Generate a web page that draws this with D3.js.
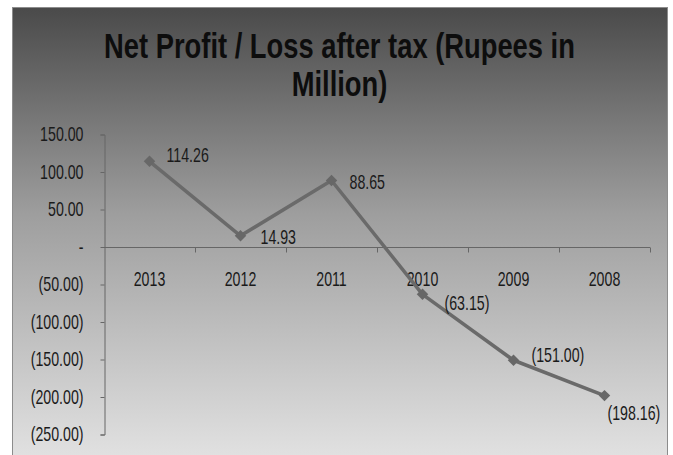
<!DOCTYPE html>
<html>
<head>
<meta charset="utf-8">
<script src="https://cdn.jsdelivr.net/npm/d3@7/dist/d3.min.js"></script>
<style>
  html, body { margin: 0; padding: 0; background: #fff; }
  svg { display: block; }
  text { font-family: "Liberation Sans", Arial, sans-serif; }
</style>
</head>
<body>
<svg id="chart" width="673" height="455"></svg>
<script>
// Net profit / loss after tax, Rupees in million
const years = ["2013", "2012", "2011", "2010", "2009", "2008"];
const netProfit = [114.26, 14.93, 88.65, -63.15, -151.00, -198.16];
const yTicks = [150, 100, 50, 0, -50, -100, -150, -200, -250];
const titleLines = ["Net Profit / Loss after tax (Rupees in", "Million)"];

// label nudges relative to each point [dx, dy]
const labelNudge = [[17, 1], [20, 8], [18, 8.5], [22, 16], [18, 2], [3, 24]];

// horizontal squeeze giving the narrow typeface look
const NARROW = 0.71;
const FS = 20;

const svg = d3.select("#chart");

// background panel with vertical grey gradient
const defs = svg.append("defs");
const grad = defs.append("linearGradient")
  .attr("id", "bg").attr("x1", 0).attr("y1", 0).attr("x2", 0).attr("y2", 1);
grad.append("stop").attr("offset", "0%").attr("stop-color", "#4a4a4a");
grad.append("stop").attr("offset", "45%").attr("stop-color", "#9e9e9e");
grad.append("stop").attr("offset", "100%").attr("stop-color", "#e4e4e4");

svg.append("rect")
  .attr("x", 12.5).attr("y", 7.5).attr("width", 655).attr("height", 460)
  .attr("fill", "url(#bg)")
  .attr("stroke", "#8c8c8c").attr("stroke-width", 1);

// title, condensed to its printed width
const title = svg.append("g").attr("class", "title");
const tx = 339.5;
const t1 = title.append("text")
  .attr("x", tx).attr("y", 58)
  .attr("text-anchor", "middle")
  .attr("font-size", 36).attr("font-weight", "bold").attr("fill", "#0d0d0d")
  .text(titleLines[0]);
title.append("text")
  .attr("x", tx).attr("y", 96)
  .attr("text-anchor", "middle")
  .attr("font-size", 36).attr("font-weight", "bold").attr("fill", "#0d0d0d")
  .text(titleLines[1]);
const k = 471 / t1.node().getComputedTextLength();
title.attr("transform", `translate(${tx},0) scale(${k},1) translate(${-tx},0)`);

// scales
const x = d3.scaleBand().domain(years).range([104, 650]);
const y = d3.scaleLinear().domain([-250, 150]).range([434.5, 134.5]);

const fmt = v => {
  if (v === 0) return "-";
  const s = d3.format(",.2f")(Math.abs(v));
  return v < 0 ? `(${s})` : s;
};

// places a narrow text at (px, py)
const narrowAt = (px, py) => `translate(${px},${py}) scale(${NARROW},1)`;

// y axis
const yAxis = svg.append("g")
  .attr("transform", "translate(104.5,0)")
  .call(d3.axisLeft(y).tickValues(yTicks).tickFormat(fmt).tickSize(4).tickPadding(17));
yAxis.select(".domain").attr("stroke", "#666");
yAxis.selectAll(".tick line").attr("stroke", "#666");
yAxis.selectAll(".tick text")
  .attr("x", 0)
  .attr("transform", narrowAt(-21, 0))
  .attr("font-size", FS).attr("fill", "#1a1a1a")
  .attr("font-family", "Liberation Sans, Arial, sans-serif");

// x axis at zero, with ticks on category boundaries
const zeroY = Math.round(y(0)) + 0.5;
const xAxis = svg.append("g").attr("transform", `translate(0,${zeroY})`);
xAxis.append("line")
  .attr("x1", x.range()[0]).attr("x2", x.range()[1])
  .attr("stroke", "#666");
xAxis.selectAll("line.tk")
  .data(years)
  .join("line").attr("class", "tk")
  .attr("x1", d => Math.round(x(d) + x.bandwidth()) + 0.5)
  .attr("x2", d => Math.round(x(d) + x.bandwidth()) + 0.5)
  .attr("y1", 0).attr("y2", 5)
  .attr("stroke", "#666");
svg.append("g").selectAll("text")
  .data(years)
  .join("text")
  .attr("transform", d => narrowAt(x(d) + x.bandwidth() / 2, 286))
  .attr("text-anchor", "middle")
  .attr("font-size", FS).attr("fill", "#1a1a1a")
  .text(d => d);

// series line
const pts = years.map((yr, i) => ({ yr, v: netProfit[i], i }));
const cx = d => x(d.yr) + x.bandwidth() / 2;
svg.append("path")
  .datum(pts)
  .attr("fill", "none")
  .attr("stroke", "#6a6a6a")
  .attr("stroke-width", 3.5)
  .attr("stroke-linejoin", "round")
  .attr("d", d3.line().x(cx).y(d => y(d.v)));

// diamond markers
svg.append("g").selectAll("path")
  .data(pts)
  .join("path")
  .attr("transform", d => `translate(${cx(d)},${y(d.v)}) rotate(45)`)
  .attr("d", d3.symbol().type(d3.symbolSquare).size(66))
  .attr("fill", "#676767");

// value labels
svg.append("g").selectAll("text")
  .data(pts)
  .join("text")
  .attr("transform", d => narrowAt(cx(d) + labelNudge[d.i][0], y(d.v) + labelNudge[d.i][1]))
  .attr("font-size", FS).attr("fill", "#1a1a1a")
  .text(d => fmt(d.v));
</script>
</body>
</html>
